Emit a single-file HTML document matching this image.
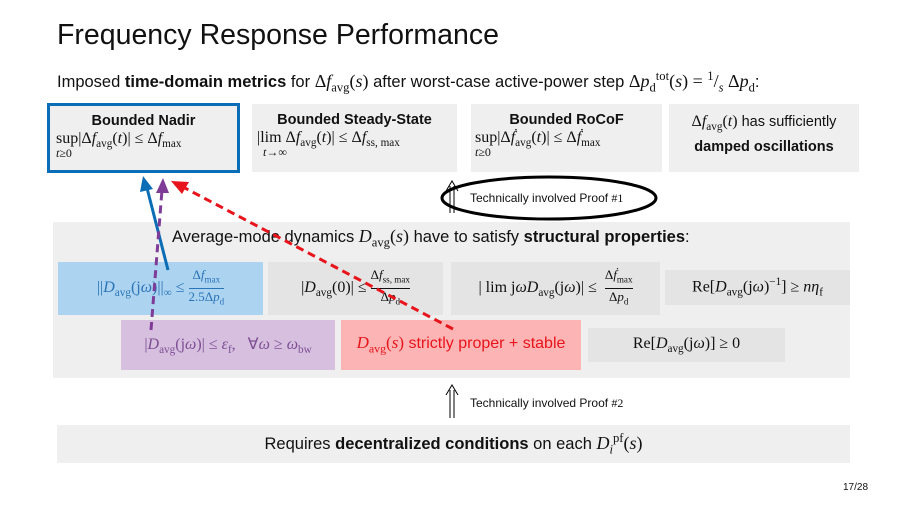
<!DOCTYPE html>
<html><head><meta charset="utf-8"><style>
body{margin:0;width:907px;height:510px;background:#fff;position:relative;overflow:hidden;font-family:"Liberation Sans",sans-serif;color:#111}
.a{position:absolute;box-sizing:border-box}
.m{font-family:"Liberation Serif",serif}
.i{font-style:italic;font-family:"Liberation Serif",serif}
.g{background:#efefef}
.c{display:flex;align-items:center;justify-content:center;text-align:center;white-space:nowrap}
sub,sup{font-size:70%}
b{font-weight:bold}
</style></head><body>
<div class="a" style="left:57px;top:19px;font-size:28.5px">Frequency Response Performance</div>
<div class="a" style="left:57px;top:69px;font-size:16.5px;white-space:nowrap">Imposed <b>time-domain metrics</b> for <span class="m" style="font-size:18px">Δ<i>f</i><sub>avg</sub>(<i>s</i>)</span> after worst-case active-power step <span class="m" style="font-size:18px">Δ<i>p</i><sub>d</sub><sup>tot</sup>(<i>s</i>) = <sup>1</sup>/<sub><i>s</i></sub> Δ<i>p</i><sub>d</sub></span>:</div>

<div class="a g" style="left:47px;top:103px;width:193px;height:70px;border:3px solid #0b6db5;text-align:center;padding-top:6px"><b style="font-size:14.5px">Bounded Nadir</b><div class="m" style="font-size:16px;text-align:left;padding-left:6px;white-space:nowrap">sup|Δ<i>f</i><sub>avg</sub>(<i>t</i>)| ≤ Δ<i>f</i><sub>max</sub><div style="font-size:12px;margin-top:-4px"><i>t</i>≥0</div></div></div>
<div class="a g" style="left:252px;top:104px;width:205px;height:68px;text-align:center;padding-top:7px"><b style="font-size:14.5px">Bounded Steady-State</b><div class="m" style="font-size:16px;text-align:left;padding-left:5px;white-space:nowrap">|lim Δ<i>f</i><sub>avg</sub>(<i>t</i>)| ≤ Δ<i>f</i><sub>ss, max</sub><div style="font-size:12px;margin-top:-4px;padding-left:6px"><i>t</i>→∞</div></div></div>
<div class="a g" style="left:471px;top:104px;width:191px;height:68px;text-align:center;padding-top:7px"><b style="font-size:14.5px">Bounded RoCoF</b><div class="m" style="font-size:16px;text-align:left;padding-left:4px;white-space:nowrap">sup|Δ<i>ḟ</i><sub>avg</sub>(<i>t</i>)| ≤ Δ<i>ḟ</i><sub>max</sub><div style="font-size:12px;margin-top:-4px"><i>t</i>≥0</div></div></div>
<div class="a g" style="left:669px;top:104px;width:190px;height:68px;text-align:center;padding-top:9px;font-size:14.5px"><span class="m" style="font-size:16px">Δ<i>f</i><sub>avg</sub>(<i>t</i>)</span> has sufficiently<div style="margin-top:6px"><b>damped oscillations</b></div></div>

<div class="a g" style="left:53px;top:222px;width:797px;height:156px"></div>
<div class="a" style="left:172px;top:226px;font-size:16.5px;white-space:nowrap">Average-mode dynamics <span class="m" style="font-size:18px"><i>D</i><sub>avg</sub>(<i>s</i>)</span> have to satisfy <b>structural properties</b>:</div>
<div class="a c m" style="left:58px;top:262px;width:205px;height:53px;background:#acd3ef;color:#2a74b8;font-size:16px"><span>||<i>D</i><sub>avg</sub>(j<i>ω</i>)||<sub>∞</sub> ≤ <span style="display:inline-block;font-size:13px;line-height:15px;vertical-align:middle"><span style="border-bottom:1px solid #2a74b8;display:block">Δ<i>f</i><sub>max</sub></span>2.5Δ<i>p</i><sub>d</sub></span></span></div>
<div class="a c m" style="left:268px;top:262px;width:175px;height:53px;background:#e4e4e4;font-size:16px"><span>|<i>D</i><sub>avg</sub>(0)| ≤ <span style="display:inline-block;font-size:13px;line-height:15px;vertical-align:middle"><span style="border-bottom:1px solid #111;display:block">Δ<i>f</i><sub>ss, max</sub></span>Δ<i>p</i><sub>d</sub></span></span></div>
<div class="a c m" style="left:451px;top:262px;width:209px;height:53px;background:#e4e4e4;font-size:16px"><span>| lim j<i>ω</i><i>D</i><sub>avg</sub>(j<i>ω</i>)| ≤ <span style="display:inline-block;font-size:13px;line-height:15px;vertical-align:middle;margin-left:4px"><span style="border-bottom:1px solid #111;display:block">Δ<i>ḟ</i><sub>max</sub></span>Δ<i>p</i><sub>d</sub></span></span></div>
<div class="a c m" style="left:665px;top:270px;width:185px;height:35px;background:#e4e4e4;font-size:16px"><span>Re[<i>D</i><sub>avg</sub>(j<i>ω</i>)<sup>−1</sup>] ≥ <i>nη</i><sub>f</sub></span></div>
<div class="a c m" style="left:121px;top:320px;width:214px;height:50px;background:#d6bfdf;color:#7e4e93;font-size:16px"><span>|<i>D</i><sub>avg</sub>(j<i>ω</i>)| ≤ <i>ε</i><sub>f</sub>, &nbsp; ∀<i>ω</i> ≥ <i>ω</i><sub>bw</sub></span></div>
<div class="a c" style="left:341px;top:320px;width:240px;height:50px;background:#fdb4b4;color:#e8141c;font-size:16px"><span><span class="m" style="font-size:17px"><i>D</i><sub>avg</sub>(<i>s</i>)</span> strictly proper + stable</span></div>
<div class="a c m" style="left:588px;top:328px;width:197px;height:34px;background:#e4e4e4;font-size:16px"><span>Re[<i>D</i><sub>avg</sub>(j<i>ω</i>)] ≥ 0</span></div>

<div class="a" style="left:470px;top:191px;font-size:12px">Technically involved Proof <span class="m">#1</span></div>
<div class="a" style="left:470px;top:396px;font-size:12px">Technically involved Proof <span class="m">#2</span></div>
<div class="a g c" style="left:57px;top:425px;width:793px;height:38px;font-size:16.5px"><span>Requires <b>decentralized conditions</b> on each <span class="m" style="font-size:18px"><i>D</i><sub><i>i</i></sub><sup>pf</sup>(<i>s</i>)</span></span></div>
<div class="a" style="left:843px;top:482px;font-size:10px">17/28</div>

<svg class="a" style="left:0;top:0" width="907" height="510">
<ellipse cx="549" cy="198" rx="107" ry="21" fill="none" stroke="#000" stroke-width="3"/>
<g stroke="#000" stroke-width="1" fill="none">
<line x1="450" y1="186" x2="450" y2="213"/><line x1="454" y1="186" x2="454" y2="213"/><path d="M446 191 L452 181 L458 191"/>
<line x1="450" y1="390" x2="450" y2="418"/><line x1="454" y1="390" x2="454" y2="418"/><path d="M446 395 L452 385 L458 395"/>
</g>
<line x1="168" y1="270" x2="147" y2="188" stroke="#0b6db5" stroke-width="3"/>
<polygon points="143,176 140,192 153,189" fill="#0b6db5"/>
<line x1="151" y1="330" x2="162" y2="190" stroke="#7e3c98" stroke-width="3" stroke-dasharray="8,5"/>
<polygon points="163,178 156,193 169,193" fill="#7e3c98"/>
<line x1="453" y1="329" x2="183" y2="187" stroke="#e8141c" stroke-width="3" stroke-dasharray="8,5"/>
<polygon points="171,181 182,194 189,182" fill="#e8141c"/>
</svg>
</body></html>
